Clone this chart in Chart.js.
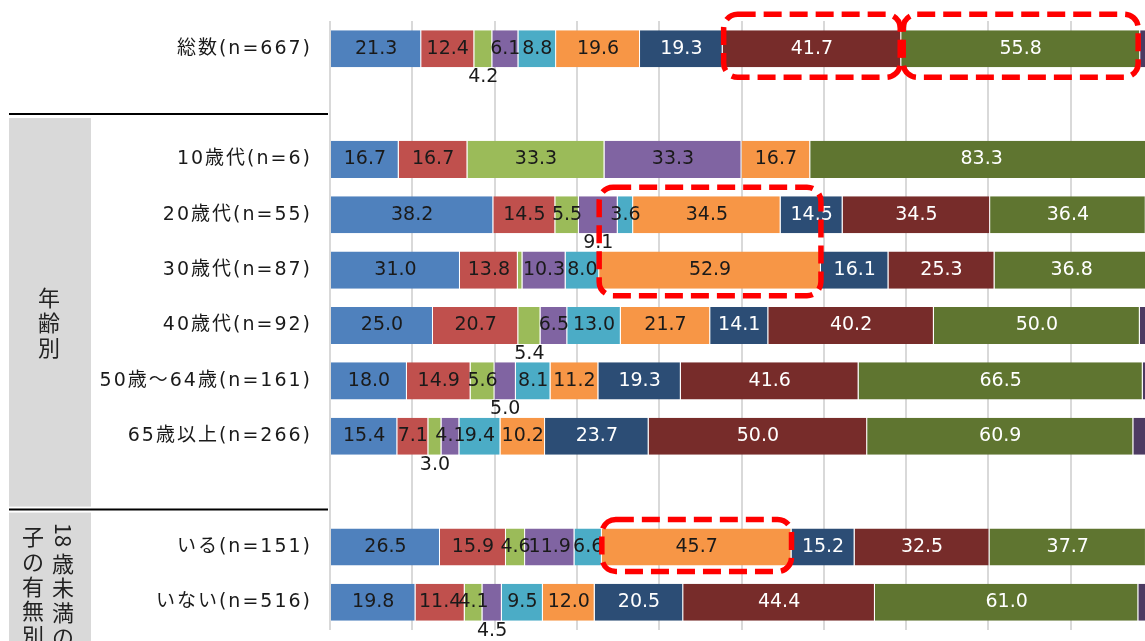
<!DOCTYPE html>
<html>
<head>
<meta charset="utf-8">
<script src="https://cdn.jsdelivr.net/npm/chart.js@4/dist/chart.umd.min.js"></script>
<style>
  body { margin: 0; overflow: hidden; background: #fff; }
</style>
</head>
<body>
<canvas id="myChart" width="1160" height="641"></canvas>
<script>
// rows (two blank spacer rows, as in the original)
const categories = [
  "総数(n=667)", " ",
  "10歳代(n=6)", "20歳代(n=55)", "30歳代(n=87)", "40歳代(n=92)",
  "50歳～64歳(n=161)", "65歳以上(n=266)", "  ",
  "いる(n=151)", "いない(n=516)"
];

// values in %
const seriesBlue   = [21.3, 0, 16.7, 38.2, 31.0, 25.0, 18.0, 15.4, 0, 26.5, 19.8];
const seriesRed    = [12.4, 0, 16.7, 14.5, 13.8, 20.7, 14.9,  7.1, 0, 15.9, 11.4];
const seriesGreen  = [ 4.2, 0, 33.3,  5.5,  1.1,  5.4,  5.6,  3.0, 0,  4.6,  4.1];
const seriesPurple = [ 6.1, 0, 33.3,  9.1, 10.3,  6.5,  5.0,  4.1, 0, 11.9,  4.5];
const seriesCyan   = [ 8.8, 0,  0.0,  3.6,  8.0, 13.0,  8.1,  9.4, 0,  6.6,  9.5];
const seriesOrange = [19.6, 0, 16.7, 34.5, 52.9, 21.7, 11.2, 10.2, 0, 45.7, 12.0];
const seriesNavy   = [19.3, 0,  0.0, 14.5, 16.1, 14.1, 19.3, 23.7, 0, 15.2, 20.5];
const seriesMaroon = [41.7, 0,  0.0, 34.5, 25.3, 40.2, 41.6, 50.0, 0, 32.5, 44.4];
const seriesOlive  = [55.8, 0, 83.3, 36.4, 36.8, 50.0, 66.5, 60.9, 0, 37.7, 61.0];
// last segment is cut off at the right edge, estimated
const seriesOther  = [ 3.0, 0,  0.0,  1.7,  1.0,  3.2,  2.4,  4.5, 0,  1.7,  3.4];

const allSeries = [seriesBlue, seriesRed, seriesGreen, seriesPurple, seriesCyan,
  seriesOrange, seriesNavy, seriesMaroon, seriesOlive, seriesOther];
const colors = ["#4f81bd", "#c0504d", "#9bbb59", "#8064a2", "#4bacc6",
  "#f79646", "#2c4d75", "#772c2a", "#5f7530", "#4d3b62"];
const darkSeries = [6, 7, 8];

// label placement tweaks: row -> dataset whose label sits under the bar
const labelBelow = { 0: 2, 3: 3, 5: 2, 6: 3, 7: 2, 10: 3 };
const labelHidden = { 4: 2 };

// red dashed highlight boxes
const highlights = [
  { ds: 7, rows: [0], padTop: 16, padBottom: 10, inset: 1 },
  { ds: 8, rows: [0], padTop: 16, padBottom: 10, inset: 2 },
  { ds: 5, rows: [3, 4], padTop: 9, padBottom: 7, inset: 0 },
  { ds: 5, rows: [9], padTop: 9, padBottom: 6, inset: 0 }
];

// 100% stacked: each row scaled by its own total
const totals = categories.map((c, j) => allSeries.reduce((s, arr) => s + arr[j], 0));

const datasets = allSeries.map((arr, i) => ({
  label: "系列" + (i + 1),
  data: arr.map((v, j) => totals[j] ? v / totals[j] * 100 : 0),
  backgroundColor: colors[i],
  borderColor: "rgba(255,255,255,0.55)",
  borderWidth: { left: 0, right: 1, top: 0, bottom: 0 },
  borderSkipped: false,
  barPercentage: 0.67,
  categoryPercentage: 1.0
}));

const numFont = '19px "DejaVu Sans", "Noto Sans CJK JP"';
const jpFont = '"DejaVu Sans", "Noto Sans CJK JP"';

function drawVertical(ctx, text, x, y, pitch) {
  // vertical writing, digit runs turned sideways
  let i = 0;
  while (i < text.length) {
    if (/[0-9]/.test(text[i])) {
      let run = "";
      while (i < text.length && /[0-9]/.test(text[i])) run += text[i++];
      ctx.save();
      ctx.translate(x, y);
      ctx.rotate(Math.PI / 2);
      ctx.textAlign = "center";
      ctx.fillText(run, 0, 0);
      ctx.restore();
      y += pitch + 4;
    } else {
      ctx.fillText(text[i], x, y);
      y += pitch;
      i++;
    }
  }
}

const tablePlugin = {
  id: "table",
  beforeDraw(chart) {
    const ctx = chart.ctx;
    const ys = chart.scales.y;
    const line1 = ys.getPixelForValue(1) + 10;
    const line2 = ys.getPixelForValue(8) + 18;
    ctx.save();
    ctx.fillStyle = "#d9d9d9";
    ctx.fillRect(9, line1 + 4, 82, line2 - line1 - 7);
    ctx.fillRect(9, line2 + 3, 82, chart.height - line2);
    ctx.strokeStyle = "#000";
    ctx.lineWidth = 2;
    ctx.beginPath();
    ctx.moveTo(9, line1); ctx.lineTo(328, line1);
    ctx.moveTo(9, line2); ctx.lineTo(328, line2);
    ctx.stroke();

    ctx.fillStyle = "#222";
    ctx.font = '22px "Noto Sans CJK JP"';
    ctx.textAlign = "center";
    ctx.textBaseline = "middle";
    drawVertical(ctx, "年齢別", 49, 298, 25);
    drawVertical(ctx, "18歳未満の", 63, 535, 24.5);
    drawVertical(ctx, "子の有無別", 33, 537, 24.7);
    ctx.restore();
    ctx.letterSpacing = "2px";
  },
  beforeDatasetsDraw(chart) {
    chart.ctx.letterSpacing = "0px";
  },
  afterDatasetsDraw(chart) {
    const ctx = chart.ctx;
    ctx.save();
    ctx.font = numFont;
    ctx.textAlign = "center";
    ctx.textBaseline = "middle";
    allSeries.forEach((arr, i) => {
      if (i === 9) return;
      const meta = chart.getDatasetMeta(i);
      meta.data.forEach((el, j) => {
        const v = arr[j];
        if (!v || labelHidden[j] === i) return;
        const cx = (el.x + el.base) / 2;
        let cy = el.y;
        ctx.fillStyle = darkSeries.includes(i) ? "#ffffff" : "#1a1a1a";
        if (labelBelow[j] === i) {
          cy = el.y + el.height / 2 + 10;
          ctx.fillStyle = "#1a1a1a";
        }
        ctx.fillText(v.toFixed(1), cx, cy);
      });
    });

    ctx.strokeStyle = "#ff0000";
    ctx.lineWidth = 5.5;
    ctx.setLineDash([18, 8]);
    highlights.forEach(h => {
      const meta = chart.getDatasetMeta(h.ds);
      let x0 = Infinity, x1 = -Infinity, y0 = Infinity, y1 = -Infinity;
      h.rows.forEach(r => {
        const el = meta.data[r];
        x0 = Math.min(x0, el.base, el.x);
        x1 = Math.max(x1, el.base, el.x);
        y0 = Math.min(y0, el.y - el.height / 2);
        y1 = Math.max(y1, el.y + el.height / 2);
      });
      ctx.beginPath();
      ctx.roundRect(x0 + h.inset, y0 - h.padTop, x1 - x0 - 2 * h.inset,
        y1 - y0 + h.padTop + h.padBottom, 14);
      ctx.stroke();
    });
    ctx.restore();
  }
};

const ctx = document.getElementById('myChart');

new Chart(ctx, {
  type: 'bar',
  data: { labels: categories, datasets: datasets },
  plugins: [tablePlugin],
  options: {
    responsive: false,
    animation: false,
    devicePixelRatio: 1,
    indexAxis: 'y',
    layout: { padding: { top: 21, bottom: 11, left: 0, right: 7 } },
    plugins: {
      legend: { display: false },
      tooltip: { enabled: false }
    },
    scales: {
      x: {
        stacked: true,
        min: 0,
        max: 100,
        ticks: { display: false, stepSize: 10 },
        grid: { color: "#d9d9d9", lineWidth: 2, drawTicks: false },
        border: { display: false },
        afterFit(scale) { scale.height = 0; }
      },
      y: {
        stacked: true,
        grid: { display: false },
        border: { display: false },
        ticks: {
          autoSkip: false,
          padding: 10,
          color: "#1a1a1a",
          font: { family: jpFont, size: 19 }
        },
        afterFit(scale) {
          scale.width = 330;
          scale.paddingTop = 0;
          scale.paddingBottom = 0;
        }
      }
    }
  }
});
</script>
</body>
</html>
